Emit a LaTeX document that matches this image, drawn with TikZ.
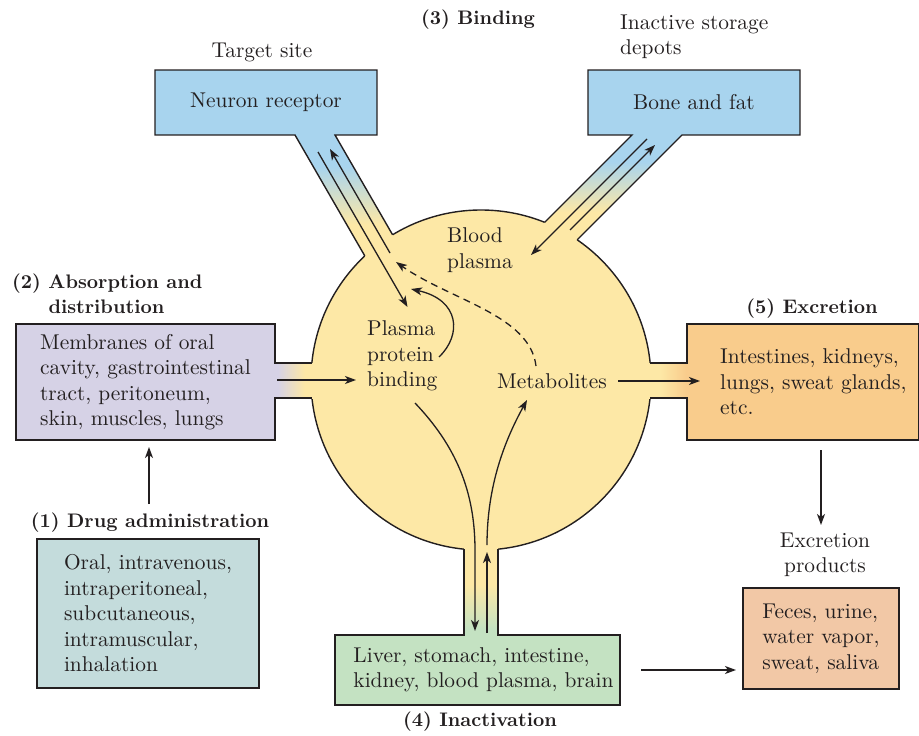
\documentclass[tikz,border=0pt]{standalone}
\usepackage{fontspec}
\setmainfont{lmroman10-regular.otf}[BoldFont=lmroman10-bold.otf]
\usetikzlibrary{arrows.meta}
\definecolor{ink}{RGB}{35,31,32}
\definecolor{skyb}{RGB}{168,212,238}
\definecolor{plasmay}{RGB}{253,232,166}
\definecolor{lav}{RGB}{214,210,230}
\definecolor{orng}{RGB}{249,204,140}
\definecolor{tealg}{RGB}{196,220,220}
\definecolor{grn}{RGB}{196,226,194}
\definecolor{peach}{RGB}{242,200,166}
\pgfdeclareverticalshading{topchan}{100bp}{color(0bp)=(plasmay); color(42bp)=(plasmay); color(62bp)=(skyb); color(100bp)=(skyb)}
\pgfdeclarehorizontalshading{leftchan}{100bp}{color(0bp)=(lav); color(32bp)=(lav); color(56bp)=(plasmay); color(100bp)=(plasmay)}
\pgfdeclarehorizontalshading{rightchan}{100bp}{color(0bp)=(plasmay); color(44bp)=(plasmay); color(68bp)=(orng); color(100bp)=(orng)}
\pgfdeclareverticalshading{botchan}{100bp}{color(0bp)=(grn); color(31bp)=(grn); color(53bp)=(plasmay); color(100bp)=(plasmay)}
\begin{document}
\begin{tikzpicture}[x=1pt,y=-1pt,
  txt/.style={font=\fontsize{21.4}{25.5}\selectfont, text=ink, inner sep=0pt, align=left},
  ctxt/.style={txt, align=center},
  head/.style={font=\fontsize{19.6}{25}\selectfont\bfseries, text=ink, inner sep=0pt, align=left},
  boxfill/.style={rectangle, inner sep=0pt, draw=none, font=\fontsize{21.4}{25.5}\selectfont, text=ink, align=left},
  outline/.style={draw=ink, line width=1.4pt, line join=miter},
  arr/.style={draw=ink, line width=1.3pt, -{Stealth[length=11pt,width=8pt,inset=3pt]}},
  dsh/.style={arr, dash pattern=on 7pt off 5pt},
]
\useasboundingbox (0,0) rectangle (919,736);

% box fills
\node[boxfill, fill=skyb, minimum width=222pt, minimum height=65pt, align=center] (neu) at (266,102.5) {Neuron receptor};
\node[boxfill, fill=skyb, minimum width=212pt, minimum height=65pt, align=center] (bone) at (694,102.5) {Bone and fat};
\node[boxfill, fill=lav, minimum width=259pt, minimum height=116pt] (mem) at (145.5,382) {Membranes of oral\\cavity, gastrointestinal\\tract, peritoneum,\\skin, muscles, lungs};
\node[boxfill, fill=orng, minimum width=231pt, minimum height=116pt] (exc) at (802.5,382) {};
\node[boxfill, fill=tealg, draw=ink, line width=1.4pt, minimum width=222pt, minimum height=149pt] (drug) at (148,613.5) {Oral, intravenous,\\intraperitoneal,\\subcutaneous,\\intramuscular,\\inhalation};
\node[boxfill, fill=grn, minimum width=285pt, minimum height=70pt] (liver) at (477.5,670) {\hspace*{12pt}Liver, stomach, intestine,\\\hspace*{12pt}kidney, blood plasma, brain};
\node[boxfill, fill=peach, draw=ink, line width=1.4pt, minimum width=156pt, minimum height=101pt] (feces) at (821,638.5) {Feces, urine,\\water vapor,\\sweat, saliva};

% blood plasma circle
\node[circle, fill=plasmay, draw=none, minimum size=340pt, inner sep=0pt] (blood) at (481,380) {};
\draw[outline] (blood.center) circle[radius=170];

% channel fills
\shade[shading=topchan] (295,129) -- (335,129) -- (335,135) -- (405,256.2) -- (375,273.6) -- (295,135) -- cycle;
\shade[shading=topchan] (632,129) -- (682,129) -- (682,135) -- (561.8,255.2) -- (529.5,237.5) -- (632,135) -- cycle;
\shade[shading=leftchan] (270,363) rectangle (326,398);
\shade[shading=rightchan] (640,363) rectangle (693,398);
\shade[shading=botchan] (464,540) rectangle (498,641);

% outlines with openings
\draw[outline] (364.8,255.9) -- (295,135) -- (155,135) -- (155,70) -- (377,70) -- (377,135) -- (335,135) -- (392.6,234.8);
\draw[outline] (544.6,222.4) -- (632,135) -- (588,135) -- (588,70) -- (800,70) -- (800,135) -- (682,135) -- (577.2,239.8);
\draw[outline] (311.9,363) -- (275,363) -- (275,324) -- (16,324) -- (16,440) -- (275,440) -- (275,398) -- (312,398);
\draw[outline] (650.1,363) -- (687,363) -- (687,324) -- (918.3,324) -- (918.3,440) -- (687,440) -- (687,398) -- (650,398);
\draw[outline] (464,549.2) -- (464,635) -- (335,635) -- (335,705) -- (620,705) -- (620,635) -- (498,635) -- (498,549.2);

% texts
\node[head] (binding) at (478,20) {(3) Binding};
\node[ctxt] (target) at (262,52) {Target site};
\node[txt, anchor=west] (inactive) at (620,37) {Inactive storage\\depots};
\node[txt, anchor=west] (bp) at (447,250) {Blood\\plasma};
\node[head, anchor=west] (absorb) at (12,296) {(2) Absorption and\\\phantom{(2) }distribution};
\node[txt, anchor=west] (ppb) at (367,356) {Plasma\\protein\\binding};
\node[txt, anchor=west] (met) at (497,381) {Metabolites};
\node[head] (exclbl) at (812,309) {(5) Excretion};
\node[txt, anchor=west] (exctext) at (720,382) {Intestines, kidneys,\\lungs, sweat glands,\\etc.};
\node[head] (druglbl) at (150,523) {(1) Drug administration};
\node[ctxt] (prod) at (825,555) {Excretion\\products};
\node[head] (inact) at (480,722) {(4) Inactivation};

% arrow end points
\coordinate (n1s) at (318,152);   \coordinate (n1e) at (407.5,307);
\coordinate (n2s) at (390,253);   \coordinate (n2e) at (330,149);
\coordinate (b1s) at (647,139);   \coordinate (b1e) at (531,255);
\coordinate (b2s) at (570,230);   \coordinate (b2e) at (655,145);
\coordinate (dms) at (536,366);   \coordinate (dme) at (396,262);
\coordinate (pps) at (439,357);   \coordinate (ppe) at (411,289);
\coordinate (l1s) at (415,403);   \coordinate (l1e) at (475,631);
\coordinate (l2s) at (487,633);   \coordinate (l2e) at (487,552);
\coordinate (l3s) at (487,545);   \coordinate (l3e) at (527,400);
\coordinate (ms) at (277,380);    \coordinate (me) at (356,380);
\coordinate (es) at (618,381);    \coordinate (ee) at (700,381);
\coordinate (ds) at (149,504);    \coordinate (de) at (149,447);
\coordinate (xs) at (821,450);    \coordinate (xe) at (821,525);
\coordinate (ls) at (641,670);    \coordinate (le) at (736,670);

% arrows
\draw[arr] (n1s) -- (n1e);
\draw[arr] (n2s) -- (n2e);
\draw[arr] (b1s) -- (b1e);
\draw[arr] (b2s) -- (b2e);
\draw[dsh] (dms) .. controls (530,315) and (450,300) .. (dme);
\draw[arr] (pps) .. controls (462,335) and (460,300) .. (ppe);
\draw[arr] (l1s) .. controls (455,445) and (475,490) .. (475,550) -- (l1e);
\draw[arr] (l2s) -- (l2e);
\draw[arr] (l3s) .. controls (487,485) and (505,440) .. (l3e);
\draw[arr] (ms) -- (me);
\draw[arr] (es) -- (ee);
\draw[arr] (ds) -- (de);
\draw[arr] (xs) -- (xe);
\draw[arr] (ls) -- (le);
\end{tikzpicture}
\end{document}
